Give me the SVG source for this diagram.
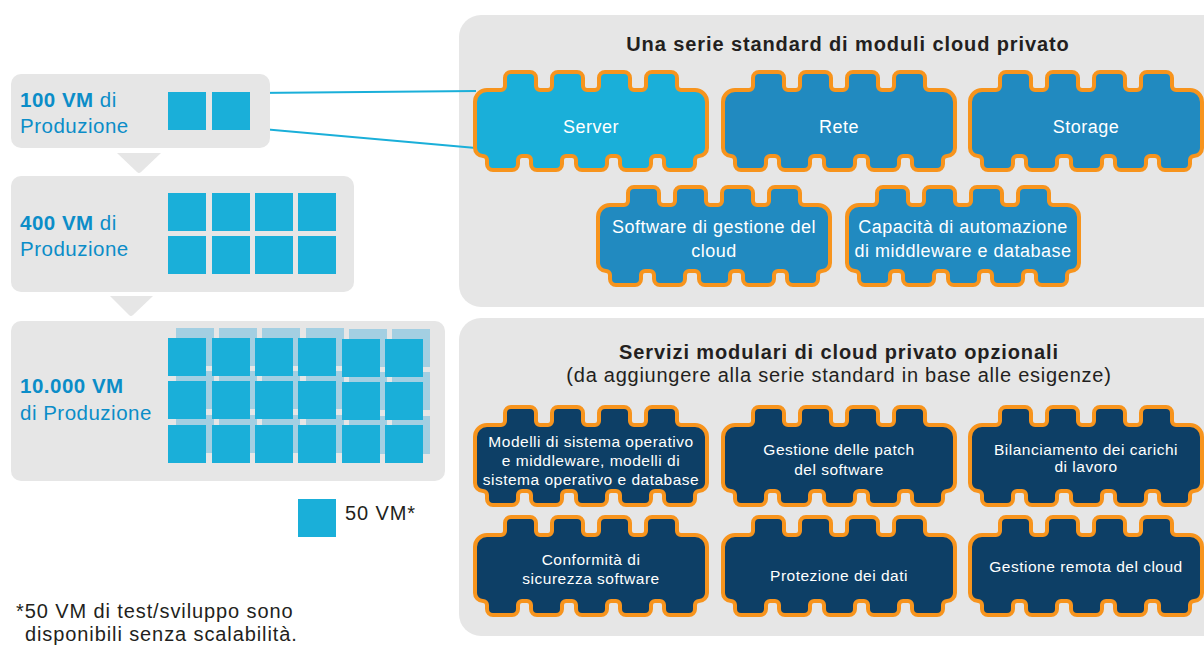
<svg xmlns="http://www.w3.org/2000/svg" xmlns:xlink="http://www.w3.org/1999/xlink" width="1204" height="646" viewBox="0 0 1204 646">
<style>
text{font-family:"Liberation Sans",Arial,Helvetica,sans-serif}
.panel{fill:#E6E6E6}
.box{fill:#E6E6E6}
.sq{fill:#1AAFD9}
.bsq{fill:#A3CFE2}
.lbl{fill:#0B8DC8;font-size:20.5px;letter-spacing:0.5px}
.b{font-weight:bold}
.pt{fill:#FFFFFF;font-size:18px;letter-spacing:0.5px;text-anchor:middle}
.ot{fill:#FFFFFF;font-size:15.5px;letter-spacing:0.5px;text-anchor:middle}
.title{fill:#231F20;font-size:20px;letter-spacing:0.9px;text-anchor:middle}
.sub{fill:#231F20;font-size:20px;letter-spacing:0.75px;text-anchor:middle}
.dark{fill:#231F20;font-size:20px;letter-spacing:0.9px}
.piece{stroke:#F7941D;stroke-width:4;stroke-linejoin:round}
.conn{stroke:#1AAFD9;stroke-width:2;fill:none}
</style>
<defs>
<path id="pz" d="M2,32 A12 12 0 0 1 14,20 L28,20 A4 4 0 0 0 32,16 L32,8 A6 6 0 0 1 38,2 L57,2 A6 6 0 0 1 63,8 L63,16 A4 4 0 0 0 67,20 L75,20 A4 4 0 0 0 79,16 L79,8 A6 6 0 0 1 85,2 L104,2 A6 6 0 0 1 110,8 L110,16 A4 4 0 0 0 114,20 L122,20 A4 4 0 0 0 126,16 L126,8 A6 6 0 0 1 132,2 L151,2 A6 6 0 0 1 157,8 L157,16 A4 4 0 0 0 161,20 L169,20 A4 4 0 0 0 173,16 L173,8 A6 6 0 0 1 179,2 L198,2 A6 6 0 0 1 204,8 L204,16 A4 4 0 0 0 208,20 L222,20 A12 12 0 0 1 234,32 L234,78 A8 8 0 0 1 226,86 A4 4 0 0 0 222,90 L222,94 A6 6 0 0 1 216,100 L197,100 A6 6 0 0 1 191,94 L191,90 A4 4 0 0 0 187,86 L182,86 A4 4 0 0 0 178,90 L178,94 A6 6 0 0 1 172,100 L153,100 A6 6 0 0 1 147,94 L147,90 A4 4 0 0 0 143,86 L138,86 A4 4 0 0 0 134,90 L134,94 A6 6 0 0 1 128,100 L109,100 A6 6 0 0 1 103,94 L103,90 A4 4 0 0 0 99,86 L93,86 A4 4 0 0 0 89,90 L89,94 A6 6 0 0 1 83,100 L64,100 A6 6 0 0 1 58,94 L58,90 A4 4 0 0 0 54,86 L49,86 A4 4 0 0 0 45,90 L45,94 A6 6 0 0 1 39,100 L20,100 A6 6 0 0 1 14,94 L14,90 A4 4 0 0 0 10,86 A8 8 0 0 1 2,78 Z"/>
<rect id="s" width="38" height="38"/>
</defs>
<rect width="1204" height="646" fill="#FFFFFF"/>

<g id="panel-standard">
<rect class="panel" x="459" y="15" width="780" height="292" rx="22"/>
<text class="title b" x="848" y="51">Una serie standard di moduli cloud privato</text>
</g>
<g id="panel-optional">
<rect class="panel" x="459" y="318" width="780" height="318" rx="22"/>
<text class="title b" x="839" y="359">Servizi modulari di cloud privato opzionali</text>
<text class="sub" x="839" y="382">(da aggiungere alla serie standard in base alle esigenze)</text>
</g>

<g id="connectors">
<line class="conn" x1="250" y1="93" x2="476" y2="91"/>
<line class="conn" x1="250" y1="128" x2="476" y2="148"/>
<path d="M117,153 L161,153 L141,172 Q139,174 137,172 Z" fill="#E6E6E6"/>
<path d="M110,296 L153,296 L133,315 Q131,317 129,315 Z" fill="#E6E6E6"/>
</g>

<g id="vm100">
<rect class="box" x="11" y="74" width="259" height="74" rx="10"/>
<text class="lbl" x="20" y="107"><tspan class="b">100 VM</tspan> di</text>
<text class="lbl" x="20" y="133">Produzione</text>
<use xlink:href="#s" class="sq" x="168" y="92"/>
<use xlink:href="#s" class="sq" x="212" y="92"/>
</g>

<g id="vm400">
<rect class="box" x="11" y="176" width="343" height="116" rx="10"/>
<text class="lbl" x="20" y="230"><tspan class="b">400 VM</tspan> di</text>
<text class="lbl" x="20" y="256">Produzione</text>
<use xlink:href="#s" class="sq" x="168" y="193"/>
<use xlink:href="#s" class="sq" x="212" y="193"/>
<use xlink:href="#s" class="sq" x="255" y="193"/>
<use xlink:href="#s" class="sq" x="298" y="193"/>
<use xlink:href="#s" class="sq" x="168" y="236"/>
<use xlink:href="#s" class="sq" x="212" y="236"/>
<use xlink:href="#s" class="sq" x="255" y="236"/>
<use xlink:href="#s" class="sq" x="298" y="236"/>
</g>

<g id="vm10000">
<rect class="box" x="11" y="321" width="434" height="160" rx="10"/>
<text class="lbl b" x="20" y="393">10.000 VM</text>
<text class="lbl" x="20" y="420">di Produzione</text>
<g class="bsq">
<use xlink:href="#s" x="176" y="328"/><use xlink:href="#s" x="219" y="328"/><use xlink:href="#s" x="262" y="328"/><use xlink:href="#s" x="306" y="328"/><use xlink:href="#s" x="349" y="329"/><use xlink:href="#s" x="392" y="329"/>
<use xlink:href="#s" x="176" y="371"/><use xlink:href="#s" x="219" y="371"/><use xlink:href="#s" x="262" y="371"/><use xlink:href="#s" x="306" y="371"/><use xlink:href="#s" x="349" y="372"/><use xlink:href="#s" x="392" y="372"/>
<use xlink:href="#s" x="176" y="415"/><use xlink:href="#s" x="219" y="415"/><use xlink:href="#s" x="262" y="415"/><use xlink:href="#s" x="306" y="415"/><use xlink:href="#s" x="349" y="416"/><use xlink:href="#s" x="392" y="416"/>
</g>
<g class="sq">
<use xlink:href="#s" x="168" y="338"/><use xlink:href="#s" x="212" y="338"/><use xlink:href="#s" x="255" y="338"/><use xlink:href="#s" x="298" y="338"/><use xlink:href="#s" x="342" y="339"/><use xlink:href="#s" x="385" y="339"/>
<use xlink:href="#s" x="168" y="381"/><use xlink:href="#s" x="212" y="381"/><use xlink:href="#s" x="255" y="381"/><use xlink:href="#s" x="298" y="381"/><use xlink:href="#s" x="342" y="382"/><use xlink:href="#s" x="385" y="382"/>
<use xlink:href="#s" x="168" y="425"/><use xlink:href="#s" x="212" y="425"/><use xlink:href="#s" x="255" y="425"/><use xlink:href="#s" x="298" y="425"/><use xlink:href="#s" x="342" y="425"/><use xlink:href="#s" x="385" y="425"/>
</g>
</g>

<g id="legend">
<use xlink:href="#s" class="sq" x="298" y="499"/>
<text class="dark" x="345" y="520">50 VM*</text>
</g>
<g id="footnote">
<text class="dark" x="16" y="618">*50 VM di test/sviluppo sono</text>
<text class="dark" x="25" y="641">disponibili senza scalabilità.</text>
</g>

<g id="server">
<use xlink:href="#pz" class="piece" fill="#1AAFD9" x="473" y="70"/>
<text class="pt" x="591" y="133">Server</text>
</g>
<g id="rete">
<use xlink:href="#pz" class="piece" fill="#218AC0" x="721" y="70"/>
<text class="pt" x="839" y="133">Rete</text>
</g>
<g id="storage">
<use xlink:href="#pz" class="piece" fill="#218AC0" x="968" y="70"/>
<text class="pt" x="1086" y="133">Storage</text>
</g>
<g id="software">
<use xlink:href="#pz" class="piece" fill="#218AC0" x="596" y="185"/>
<text class="pt" x="714" y="233">Software di gestione del</text>
<text class="pt" x="714" y="257">cloud</text>
</g>
<g id="automazione">
<use xlink:href="#pz" class="piece" fill="#218AC0" x="845" y="185"/>
<text class="pt" x="963" y="233">Capacità di automazione</text>
<text class="pt" x="963" y="257">di middleware e database</text>
</g>

<g id="modelli">
<use xlink:href="#pz" class="piece" fill="#0D3F66" x="473" y="405"/>
<text class="ot" x="591" y="447">Modelli di sistema operativo</text>
<text class="ot" x="591" y="466">e middleware, modelli di</text>
<text class="ot" x="591" y="485">sistema operativo e database</text>
</g>
<g id="patch">
<use xlink:href="#pz" class="piece" fill="#0D3F66" x="721" y="405"/>
<text class="ot" x="839" y="455">Gestione delle patch</text>
<text class="ot" x="839" y="475">del software</text>
</g>
<g id="bilanciamento">
<use xlink:href="#pz" class="piece" fill="#0D3F66" x="968" y="405"/>
<text class="ot" x="1086" y="455">Bilanciamento dei carichi</text>
<text class="ot" x="1086" y="472">di lavoro</text>
</g>
<g id="conformita">
<use xlink:href="#pz" class="piece" fill="#0D3F66" x="473" y="515"/>
<text class="ot" x="591" y="565">Conformità di</text>
<text class="ot" x="591" y="584">sicurezza software</text>
</g>
<g id="protezione">
<use xlink:href="#pz" class="piece" fill="#0D3F66" x="721" y="515"/>
<text class="ot" x="839" y="581">Protezione dei dati</text>
</g>
<g id="remota">
<use xlink:href="#pz" class="piece" fill="#0D3F66" x="968" y="515"/>
<text class="ot" x="1086" y="572">Gestione remota del cloud</text>
</g>
</svg>
